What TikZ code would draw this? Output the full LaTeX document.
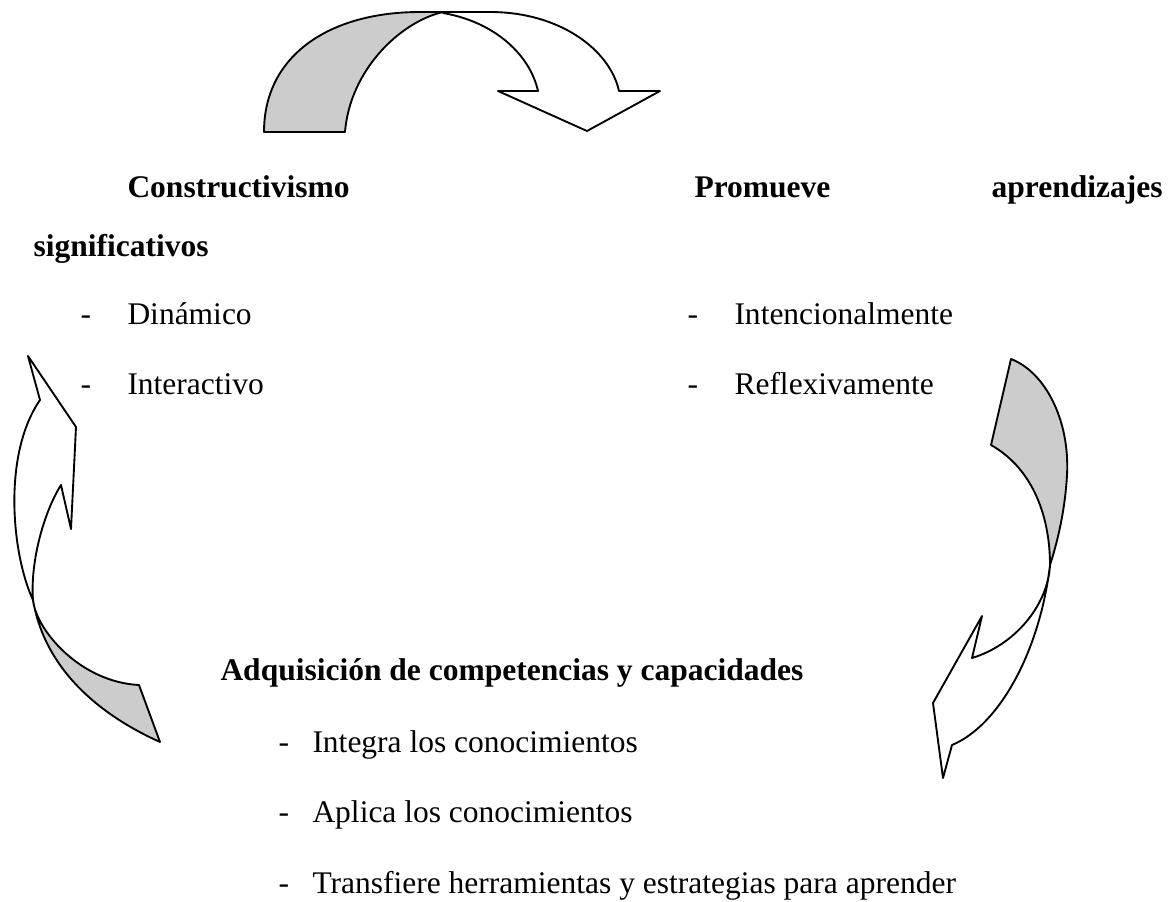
\documentclass[tikz,border=0pt]{standalone}
\usepackage{fontspec}
\setmainfont{Liberation Serif}

\begin{document}
\begin{tikzpicture}[x=0.4pt,y=-0.4pt,
    texto/.style={anchor=base west, inner sep=0pt, font=\fontsize{12.6}{15}\selectfont},
    titulo/.style={texto, font=\fontsize{12.6}{15}\selectfont\bfseries},
    cinta/.style={draw=black, line width=0.75pt, line join=round, fill=white},
    dorso/.style={cinta, fill=gray!40}]
    \useasboundingbox (0,0) rectangle (1173,901);

    % --- Flecha superior ---
    % parte trasera (gris)
    \draw[dorso] (264,132) .. controls (264,55) and (330,12) .. (420,12) -- (443,12)
        .. controls (400,22) and (350,70) .. (345,132) -- cycle;
    % parte delantera con punta
    \draw[cinta] (443,12) -- (490,12) .. controls (560,12) and (610,50) .. (619,91)
        -- (660,91) -- (587,131) -- (498,91) -- (538,91)
        .. controls (530,55) and (495,22) .. (443,13) -- cycle;

    % --- Flecha izquierda ---
    \draw[cinta] (33,600) .. controls (12,555) and (2,455) .. (40,400) -- (28,356) -- (76,427)
        -- (71,529) -- (61,485) .. controls (45,510) and (30,560) .. (33,600) -- cycle;
    \draw[dorso] (33,600) .. controls (36,630) and (80,682) .. (139,685) -- (160,742)
        .. controls (100,715) and (45,670) .. (33,600) -- cycle;

    % --- Flecha derecha ---
    \draw[dorso] (1011,359) .. controls (1045,372) and (1070,420) .. (1067,475)
        .. controls (1065,510) and (1058,540) .. (1050,565)
        .. controls (1050,520) and (1035,470) .. (991,445) -- cycle;
    \draw[cinta] (1050,565) .. controls (1048,605) and (1015,645) .. (972,658) -- (982,616)
        -- (933,703) -- (943,778) -- (952,745) .. controls (1000,725) and (1040,650) .. (1050,565) -- cycle;

    % --- Textos ---
    % Constructivismo
    \node[titulo] (constr) at (127,197) {Constructivismo};
    \node[titulo] (promueve) at (694,197) {Promueve};
    \node[titulo, anchor=base east] (aprend) at (1163,197) {aprendizajes};
    \node[titulo] (signif) at (33,256) {significativos};
    \node[texto] (guionA) at (80,324) {-};
    \node[texto] (dinam) at (127,324) {Dinámico};
    \node[texto] (guionB) at (80,394) {-};
    \node[texto] (inter) at (127,394) {Interactivo};
    % Promueve aprendizajes
    \node[texto] (guionC) at (687,324) {-};
    \node[texto] (intenc) at (734,324) {Intencionalmente};
    \node[texto] (guionD) at (687,394) {-};
    \node[texto] (reflex) at (734,394) {Reflexivamente};
    % Adquisición
    \node[titulo] (adqui) at (220,680) {Adquisición de competencias y capacidades};
    \node[texto] (guionE) at (278,752) {-};
    \node[texto] (integra) at (312,752) {Integra los conocimientos};
    \node[texto] (guionF) at (278,822) {-};
    \node[texto] (aplica) at (312,822) {Aplica los conocimientos};
    \node[texto] (guionG) at (278,893) {-};
    \node[texto] (transf) at (312,893) {Transfiere herramientas y estrategias para aprender};
\end{tikzpicture}
\end{document}
